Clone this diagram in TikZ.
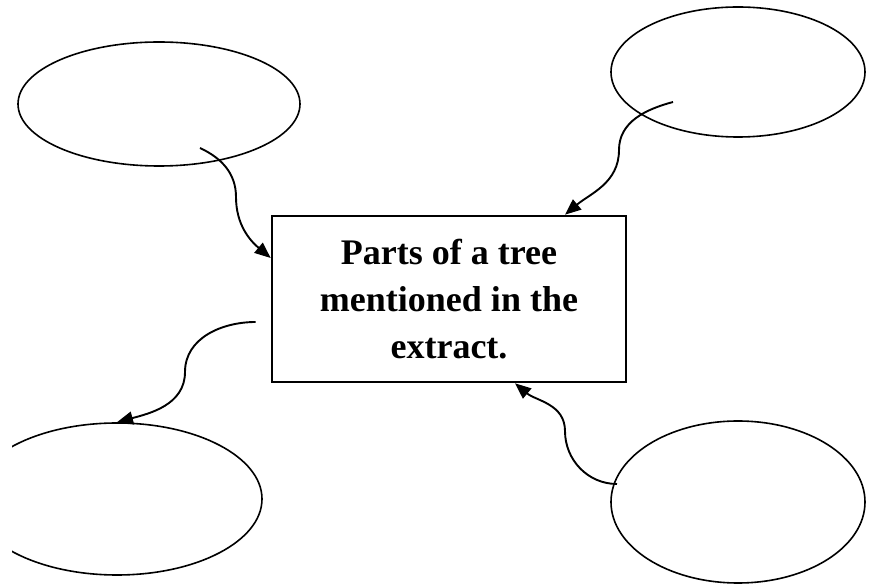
\documentclass[tikz,border=0pt]{standalone}
\usepackage{fontspec}
\setmainfont{Liberation Serif}
\usetikzlibrary{arrows.meta, shapes.geometric}
\begin{document}
\begin{tikzpicture}[x=1pt, y=1pt,
    bubble/.style={draw, ellipse, line width=1.6pt, inner sep=0pt},
    link/.style={line width=1.9pt, -{Triangle[length=16pt, width=13pt]}}]
    \useasboundingbox (0,0) rectangle (871,584);
    \node [draw, line width=2.6pt, minimum width=354pt, minimum height=166pt,
      align=center, font=\fontsize{36}{47}\selectfont\bfseries] (box) at (449,285)
      {Parts of a tree\\mentioned in the\\extract.};
    \node [bubble, minimum width=282pt, minimum height=124pt] (tl) at (159,480) {};
    \node [bubble, minimum width=254pt, minimum height=130pt] (tr) at (738,512) {};
    \begin{scope}
      \clip (12,0) rectangle (871,584);
      \node [bubble, minimum width=290pt, minimum height=152pt] (ll) at (117,85) {};
    \end{scope}
    \node [bubble, minimum width=254pt, minimum height=162pt] (lr) at (738,82) {};
    % free ends of the connectors
    \coordinate (tlout) at ([shift={(41,-44)}]tl.center);
    \coordinate (trout) at ([shift={(-65,-30)}]tr.center);
    \coordinate (boxout) at ([shift={(-15,-23)}]box.west);
    \coordinate (lrout) at ([shift={(-121,18)}]lr.center);
    \draw [link] (tlout) to[out=-25, in=90] (236,387) to[out=-90, in=140] ([yshift=41]box.west);
    \draw [link] (trout) to[out=195, in=90] (619,434) to[out=-90, in=40] ([xshift=116]box.north);
    \draw [link] (boxout) to[out=180, in=90] (185,212) to[out=-90, in=15] (ll.north);
    \draw [link] (lrout) to[out=180, in=-90] (565,153) to[out=90, in=-40] ([xshift=66]box.south);
\end{tikzpicture}
\end{document}
